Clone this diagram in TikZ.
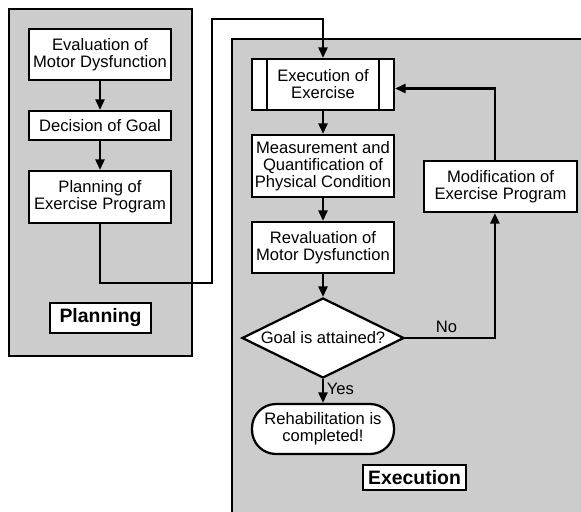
\documentclass[tikz,border=0pt]{standalone}
\usepackage{fontspec}
\setmainfont{Liberation Sans}
\usetikzlibrary{shapes.geometric,arrows.meta}
\definecolor{panelgray}{gray}{0.8}

\begin{document}
\begin{tikzpicture}
                [box/.style={rectangle,draw=black,line width=1.6pt,fill=white,minimum width=3.55cm,minimum height=1.275cm,align=center,inner sep=1pt,font=\fontsize{11.8pt}{12pt}\selectfont},
                decision/.style={diamond,aspect=2,draw=black,line width=1.6pt,fill=white,minimum width=4.05cm,minimum height=2cm,inner sep=0pt,font=\fontsize{11.8pt}{12pt}\selectfont},
                terminal/.style={box,rounded corners=0.6cm},
                tag/.style={rectangle,draw=black,line width=1.6pt,fill=white,inner sep=3pt,font=\fontsize{13.8pt}{14pt}\selectfont\bfseries},
                panel/.style={draw=black,line width=1.6pt,fill=panelgray},
                arrow/.style={-{Triangle[length=7.5pt,width=6.5pt]},line width=1.6pt},
                ]
                \useasboundingbox (0,0) rectangle (14.525,12.775);
                % grey panels
                \draw[panel] (0.225,3.875) rectangle (4.8,12.55);
                \draw[panel] (5.8,-0.2) rectangle (14.8,11.8);
                % planning side
                \node[box] (evalmotor) at (2.5,11.4125) {Evaluation of\\Motor Dysfunction};
                \node[box, minimum height=0.725cm] (goal) at (2.5,9.6375) {Decision of Goal};
                \node[box, minimum height=1.3cm] (planprog) at (2.5,7.85) {Planning of\\Exercise Program};
                \node[tag, minimum width=2.525cm, minimum height=0.75cm] (plantag) at (2.5125,4.825) {Planning};
                % execution side
                \node[box] (exe) at (8.075,10.6625) {Execution of\\Exercise};
                \draw[line width=1.6pt] ([xshift=0.4cm]exe.north west) -- ([xshift=0.4cm]exe.south west);
                \draw[line width=1.6pt] ([xshift=-0.4cm]exe.north east) -- ([xshift=-0.4cm]exe.south east);
                \node[box, minimum height=1.55cm] (measure) at (8.075,8.625) {Measurement and\\Quantification of\\Physical Condition};
                \node[box] (reval) at (8.075,6.5875) {Revaluation of\\Motor Dysfunction};
                \node[decision] (attained) at (8.075,4.325) {Goal is attained?};
                \node[terminal, minimum height=1.25cm] (done) at (8.075,2.05) {Rehabilitation is\\completed!};
                \node[box, minimum width=3.825cm] (modprog) at (12.5125,8.1125) {Modification of\\Exercise Program};
                \node[tag, minimum width=2.575cm, minimum height=0.625cm] (exetag) at (10.3625,0.8375) {Execution};
                % connectors
                \coordinate (jumpA) at (5.3,5.7);
                \coordinate (jumpB) at (5.3,12.3);
                \draw[arrow] (evalmotor) -- (goal);
                \draw[arrow] (goal) -- (planprog);
                \draw[arrow] (planprog.south) |- (jumpA) -- (jumpB) -| (exe.north);
                \draw[arrow] (exe) -- (measure);
                \draw[arrow] (measure) -- (reval);
                \draw[arrow] (reval) -- (attained);
                \draw[arrow] (attained.south) -- node[right, pos=0.4, inner sep=2pt, font=\fontsize{11.8pt}{12pt}\selectfont]{Yes} (done.north);
                \draw[arrow] (attained.east) -| node[above, pos=0.23, inner sep=3pt, font=\fontsize{11.8pt}{12pt}\selectfont]{No} ([xshift=-0.14cm]modprog.south);
                \draw[arrow] ([xshift=-0.14cm]modprog.north) |- ([yshift=-0.1cm]exe.east);
            \end{tikzpicture}
\end{document}
